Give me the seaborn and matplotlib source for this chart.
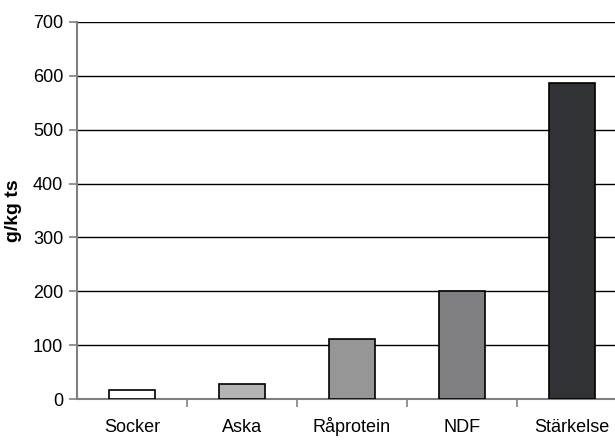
import matplotlib
matplotlib.use("Agg")
import matplotlib.pyplot as plt
import seaborn as sns
import pandas as pd

# Values
categories = ['Socker', 'Aska', 'Råprotein', 'NDF', 'Stärkelse']
values = [17, 28, 111, 200, 586]
colors = ['#ffffff', '#b4b4b4', '#969696', '#7f7f83', '#2f3236']
y_ticks = [0, 100, 200, 300, 400, 500, 600, 700]

df = pd.DataFrame({'kategori': categories, 'varde': values})

sns.set_style('white')
plt.rcParams['font.family'] = ['Liberation Sans', 'DejaVu Sans']
plt.rcParams['text.color'] = 'black'
plt.rcParams['axes.labelcolor'] = 'black'
plt.rcParams['xtick.color'] = 'black'
plt.rcParams['ytick.color'] = 'black'

fig = plt.figure(figsize=(6.15, 4.43), dpi=100)
ax = fig.add_axes([77 / 615, 44 / 443, 550 / 615, 377 / 443])

sns.barplot(data=df, x='kategori', y='varde', hue='kategori', palette=colors,
            width=0.41, edgecolor='black', linewidth=1.2, legend=False, ax=ax, zorder=3)

ax.set_ylim(0, 700)
ax.set_xlim(-0.5, 4.5)
ax.set_yticks(y_ticks)
ax.yaxis.grid(True, color='black', linewidth=1.0, zorder=0)
ax.set_axisbelow(True)

# x ticks sit between categories, labels centered on bars
ax.set_xticks([i + 0.5 for i in range(len(categories))])
ax.set_xticklabels([])
ax.set_xticks(range(len(categories)), minor=True)
ax.set_xticklabels(categories, minor=True, fontsize=13)
for lbl in ax.get_xticklabels(minor=True):
    lbl.set_verticalalignment('baseline')
ax.tick_params(axis='x', which='minor', bottom=False, length=0, pad=24)
ax.tick_params(axis='x', which='major', bottom=True, direction='out', length=6,
               color='#808080', width=1.2)
ax.tick_params(axis='y', left=True, direction='out', length=6, color='#808080',
               labelcolor='black', width=1.2, labelsize=13, pad=4)

for side in ['top', 'right']:
    ax.spines[side].set_visible(False)
for side in ['left', 'bottom']:
    ax.spines[side].set_color('#808080')
    ax.spines[side].set_linewidth(1.5)

ax.set_xlabel('')
ax.set_ylabel('g/kg ts', fontsize=14, fontweight='bold', labelpad=8)

fig.savefig('out.png', dpi=100)
